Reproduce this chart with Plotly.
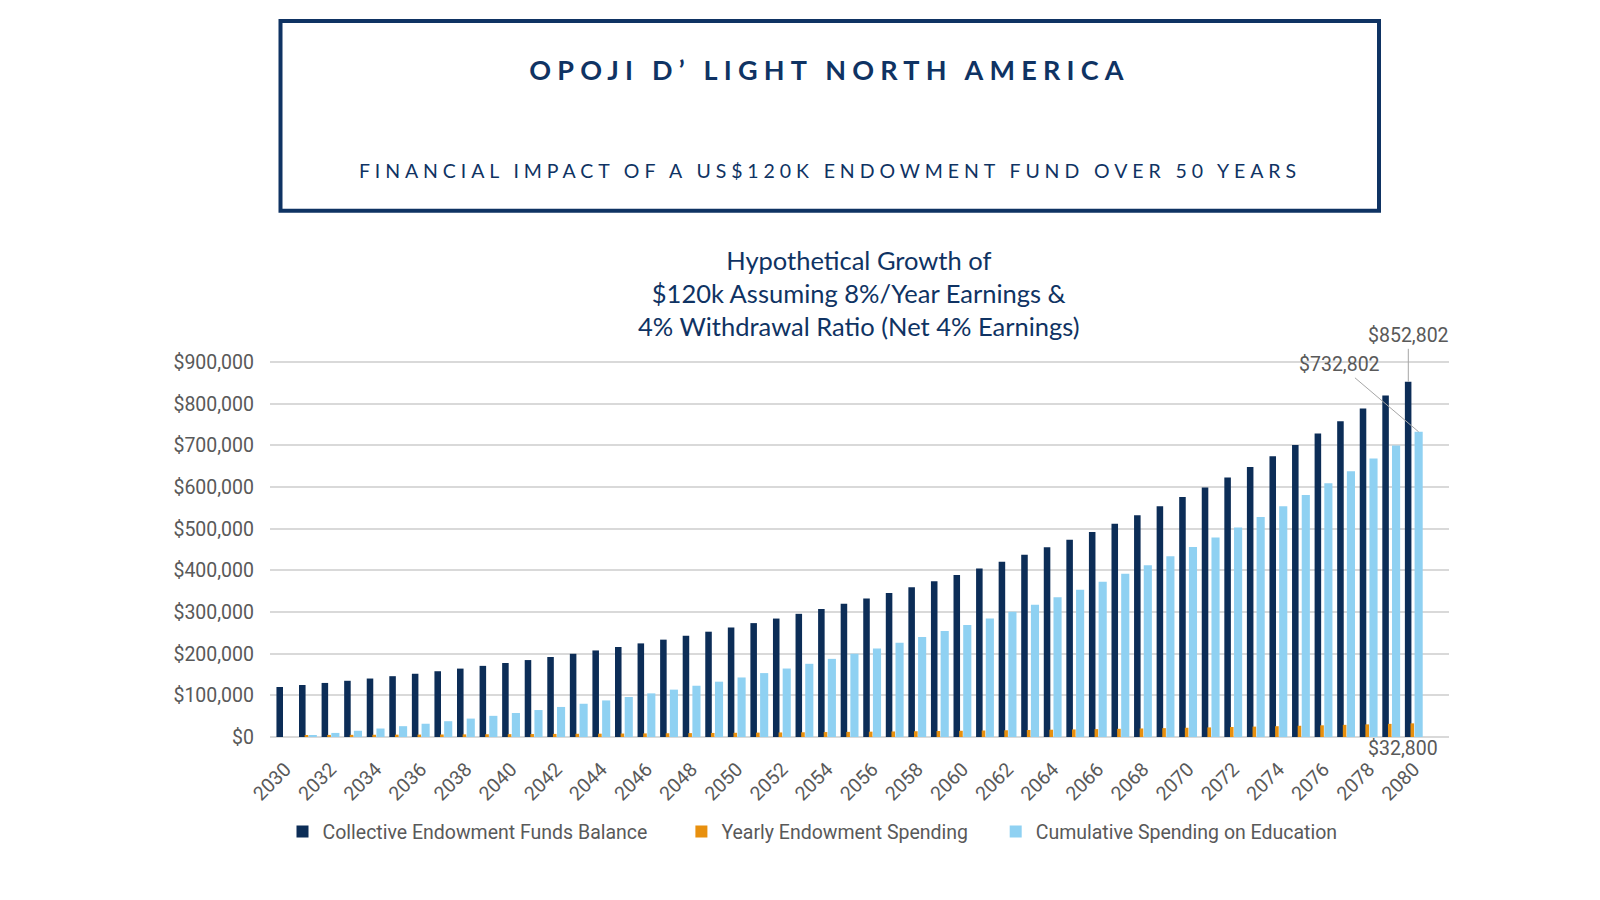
import plotly.graph_objects as go

# ---------------- data ----------------
years = [str(y) for y in range(2030, 2081)]

balance = [120000, 124800, 129792, 134984, 140383, 145998, 151838, 157912, 164228, 170797,
           177629, 184734, 192124, 199809, 207801, 216113, 224758, 233748, 243098, 252822,
           262935, 273452, 284390, 295766, 307597, 319900, 332696, 346004, 359844, 374238,
           389208, 404776, 420967, 437806, 455318, 473531, 492472, 512171, 532658, 553964,
           576122, 599167, 623134, 648059, 673982, 700941, 728979, 758138, 788463, 820002,
           852802]

yearly = [0, 4800, 4992, 5192, 5399, 5615, 5840, 6074, 6317, 6569,
          6832, 7105, 7389, 7685, 7992, 8312, 8645, 8990, 9350, 9724,
          10113, 10517, 10938, 11376, 11831, 12304, 12796, 13308, 13840, 14394,
          14970, 15568, 16191, 16839, 17512, 18213, 18941, 19699, 20487, 21306,
          22159, 23045, 23967, 24925, 25922, 26959, 28038, 29159, 30326, 31539,
          32800]

cumulative = [0, 4800, 9792, 14984, 20383, 25998, 31838, 37912, 44228, 50797,
              57629, 64734, 72124, 79809, 87801, 96113, 104758, 113748, 123098, 132822,
              142935, 153452, 164390, 175766, 187597, 199900, 212696, 226004, 239844, 254238,
              269208, 284776, 300967, 317806, 335318, 353531, 372472, 392171, 412658, 433964,
              456122, 479167, 503134, 528059, 553982, 580941, 608979, 638138, 668463, 700002,
              732802]

series_names = ["Collective Endowment Funds Balance",
                "Yearly Endowment Spending",
                "Cumulative Spending on Education"]

main_title = "OPOJI D’ LIGHT NORTH AMERICA"
sub_title = "FINANCIAL IMPACT OF A US$120K ENDOWMENT FUND OVER 50 YEARS"
chart_title = ("Hypothetical Growth of<br>$120k Assuming 8%/Year Earnings &amp;<br>"
               "4% Withdrawal Ratio (Net 4% Earnings)")

# ---------------- style ----------------
NAVY = "#0c2d57"
ORANGE = "#e8900e"
LBLUE = "#8fd1f2"
TITLE_C = "#0f3363"
GREY = "#595959"

W, H = 1600, 900
L, R, T, B = 270, 1449, 357.5, 737.0   # plot area in pixels
X0 = -0.686                            # category-axis value at left edge
X1 = 51.555                            # category-axis value at right edge
Y_TOP = 910000


def xp(px):
    return (px - L) / (R - L)


def yp(py):
    return (B - py) / (B - T)


fig = go.Figure()
fig.add_trace(go.Bar(x=years, y=balance, name=series_names[0], marker_color=NAVY,
                     offset=-0.40, width=0.29, marker_line_width=0, legend="legend"))
fig.add_trace(go.Bar(x=years, y=yearly, name=series_names[1], marker_color=ORANGE,
                     offset=-0.15, width=0.16, marker_line_width=0, legend="legend2"))
fig.add_trace(go.Bar(x=years, y=cumulative, name=series_names[2], marker_color=LBLUE,
                     offset=0.03, width=0.36, marker_line_width=0, legend="legend3"))

shapes = [dict(type="rect", xref="paper", yref="paper",
               x0=xp(280.5), x1=xp(1379), y0=yp(210), y1=yp(20),
               line=dict(color=TITLE_C, width=4), fillcolor="rgba(0,0,0,0)", layer="above")]

last = len(years) - 1
label_font = dict(family="Roboto", size=19.5, color=GREY)

annotations = [
    dict(text=main_title, xref="paper", yref="paper", x=xp(829.5), y=yp(69),
         showarrow=False, xanchor="center", yanchor="middle",
         font=dict(family="Lato", size=27, color=TITLE_C, weight="bold")),
    dict(text=sub_title, xref="paper", yref="paper", x=xp(829.5), y=yp(170),
         showarrow=False, xanchor="center", yanchor="middle",
         font=dict(family="Lato", size=19.5, color=TITLE_C)),
    dict(text=chart_title, xref="paper", yref="paper", x=xp(859), y=yp(292),
         showarrow=False, xanchor="center", yanchor="middle", align="center",
         font=dict(family="Lato", size=25.5, color=TITLE_C)),
    # data labels (x given as category index)
    dict(text=f"${balance[last]:,}", x=last, y=balance[last], xref="x", yref="y",
         xshift=-5.6, showarrow=True, arrowhead=0, arrowwidth=1, arrowcolor="#a6a6a6",
         ax=0, ay=-46, standoff=0, font=label_font),
    dict(text=f"${cumulative[last]:,}", x=last, y=cumulative[last], xref="x", yref="y",
         xshift=4.7, showarrow=True, arrowhead=0, arrowwidth=1, arrowcolor="#a6a6a6",
         ax=-79, ay=-67, standoff=0, font=label_font),
    dict(text=f"${yearly[last]:,}", x=last, y=yearly[last], xref="x", yref="y",
         xshift=-10.5, yshift=-25, showarrow=False, font=label_font),
]

legend_font = dict(family="Roboto", size=19.5, color=GREY)
leg_common = dict(orientation="h", xanchor="left", y=yp(832), yanchor="middle",
                  font=legend_font, itemclick=False, itemdoubleclick=False,
                  bgcolor="rgba(0,0,0,0)")

fig.update_layout(
    width=W, height=H,
    margin=dict(l=L, r=W - R, t=T, b=H - B, pad=0),
    paper_bgcolor="white", plot_bgcolor="white",
    barmode="overlay",
    showlegend=True,
    legend=dict(x=xp(322.5 - 40), **leg_common),
    legend2=dict(x=xp(721.4 - 40), **leg_common),
    legend3=dict(x=xp(1035.7 - 40), **leg_common),
    shapes=shapes,
    annotations=annotations,
    font=dict(family="Roboto", color=GREY),
)

fig.update_xaxes(type="category", range=[X0, X1], tickangle=-45, dtick=2,
                 showgrid=False, showline=False, ticks="", ticklabelstandoff=16,
                 tickfont=dict(family="Roboto", size=19.5, color=GREY))
fig.update_yaxes(range=[0, Y_TOP], dtick=100000, tickprefix="$", tickformat=",",
                 showgrid=True, gridcolor="#d9d9d9", gridwidth=1.5,
                 zeroline=True, zerolinecolor="#d9d9d9", zerolinewidth=1.5,
                 showline=False, ticks="", ticklabelstandoff=15,
                 tickfont=dict(family="Roboto", size=19.5, color=GREY))

post_js = """
(function(){
  var css = 'html,body{margin:0;padding:0;}' +
            'g.annotation[data-index="0"] text{letter-spacing:6.2px;}' +
            'g.annotation[data-index="1"] text{letter-spacing:4.9px;}';
  var s = document.createElement('style');
  s.textContent = css;
  document.head.appendChild(s);
})();
"""

fig.write_html("out.html", post_script=post_js, config={"displayModeBar": False})
